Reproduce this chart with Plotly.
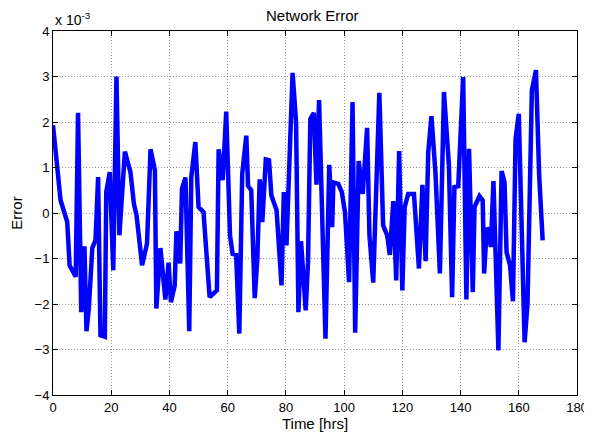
import plotly.graph_objects as go

# Time [hrs]
hours = [0, 1.5, 2.6, 4.9, 5.7, 7.8, 8.6, 9.7, 10.8, 11.5, 12.3, 13.5, 14.6, 15.5, 16.3, 17.8,
         18.3, 19.5, 20.7, 21.8, 22.8, 24.7, 26.6, 27.8, 28.7, 30.6, 32.3, 33.5, 35.0, 35.5,
         36.9, 38.6, 39.7, 40.5, 41.8, 42.4, 43.7, 44.3, 45.5, 46.8, 47.5, 48.9, 50.0, 51.7,
         53.8, 56.3, 56.9, 58.3, 59.5, 60.8, 61.7, 62.9, 64.0, 65.0, 66.4, 67.0, 68.1, 69.3,
         70.2, 71.0, 71.9, 73.1, 74.2, 75.0, 76.8, 78.5, 79.3, 80.2, 82.3, 83.5, 84.3, 85.2,
         86.8, 87.6, 88.4, 89.6, 90.5, 91.4, 93.6, 94.9, 95.9, 96.3, 98.0, 99.2, 100.3, 101.7,
         102.9, 103.8, 105.0, 106.4, 107.9, 108.7, 110.0, 112.1, 113.4, 114.8, 115.7, 116.9,
         117.9, 118.9, 120.0, 120.8, 122.0, 124.0, 125.7, 126.9, 128.0, 128.9, 130.0, 131.4,
         132.9, 134.3, 136.0, 137.1, 137.9, 139.2, 140.9, 142.0, 142.9, 144.2, 144.8, 146.5,
         147.6, 148.1, 149.0, 149.8, 150.4, 151.3, 153.0, 154.1, 155.1, 155.8, 157.0, 158.0,
         158.9, 160.0, 162.0, 163.0, 164.5, 165.9, 167.0, 168.2]

# Error (x 1e-3)
error_e3 = [1.93, 0.9, 0.28, -0.2, -1.15, -1.4, 2.2, -2.18, -0.73, -2.6, -2.1, -0.77, -0.6, 0.79,
            -2.69, -2.72, 0.46, 0.9, -1.26, 3.0, -0.49, 1.35, 0.9, 0.2, -0.05, -1.15, -0.67, 1.4,
            0.94, -2.1, -0.77, -1.9, -1.09, -1.96, -1.6, -0.4, -1.11, 0.53, 0.78, -2.6, 0.79, 1.56,
            0.13, 0.02, -1.85, -1.7, 1.4, 0.72, 2.23, -0.49, -0.9, -0.92, -2.65, 0.86, 1.7, 0.6,
            0.5, -1.87, -1.0, 0.74, -0.2, 1.18, 1.16, 0.39, 0.06, -1.59, 0.46, -0.71, 3.08, 2.0,
            -2.18, -0.62, -2.14, -1.08, 2.07, 2.2, 0.62, 2.48, -2.76, 1.06, -0.31, 0.67, 0.64,
            0.46, 0.02, -1.52, 2.44, -2.63, 1.14, 0.42, 1.87, -0.49, -1.53, 2.64, -0.27, -0.49,
            -0.92, 0.26, -1.48, 1.36, -1.7, 0.13, 0.42, 0.42, -1.22, 0.62, -1.06, 1.34, 2.13,
            0.86, -1.33, 2.66, 1.05, -1.85, 0.57, 0.59, 2.99, -1.9, 1.41, -1.74, 0.13, 0.37,
            0.28, -1.33, -0.33, -0.38, -0.75, 0.70, -3.02, 0.92, 0.68, -0.86, -1.15, -1.94,
            1.63, 2.18, -2.84, -1.99, 2.7, 3.14, 0.83, -0.6]

x_ticks = [0, 20, 40, 60, 80, 100, 120, 140, 160, 180]
y_ticks = [-4, -3, -2, -1, 0, 1, 2, 3, 4]

font = "Liberation Sans, Arial, sans-serif"

fig = go.Figure()
fig.add_trace(go.Scatter(x=hours, y=error_e3, mode="lines",
                         line=dict(color="#0000FF", width=4.5), showlegend=False))

axis_common = dict(showline=True, mirror="ticks", linecolor="black", linewidth=1,
                   ticks="inside", ticklen=5, tickcolor="black", automargin=False,
                   showgrid=True, gridcolor="#9a9a9a", griddash="1px,2px", gridwidth=1,
                   zeroline=False, tickfont=dict(family=font, size=13, color="black"))

fig.update_xaxes(range=[0, 180], tickvals=x_ticks,
                 title=dict(text="Time [hrs]", font=dict(family=font, size=15, color="black"),
                            standoff=3),
                 **axis_common)
fig.update_yaxes(range=[-4, 4], tickvals=y_ticks,
                 title=dict(text="Error", font=dict(family=font, size=15, color="black"),
                            standoff=9),
                 **axis_common)

# the page body adds an 8px offset, so the figure is 8px smaller than the window
fig.update_layout(
    width=584, height=430,
    margin=dict(l=45, r=15, t=23, b=43),
    paper_bgcolor="white", plot_bgcolor="white",
    title=dict(text="Network Error", x=0.521, xanchor="center", y=0.982, yanchor="middle",
               font=dict(family=font, size=15, color="black")),
    annotations=[dict(text="x 10<sup>-3</sup>", xref="paper", yref="paper", x=0.0, y=1.0,
                      xanchor="left", yanchor="bottom", showarrow=False, yshift=1,
                      font=dict(family=font, size=14, color="black"))],
)

fig.write_html("out.html")
